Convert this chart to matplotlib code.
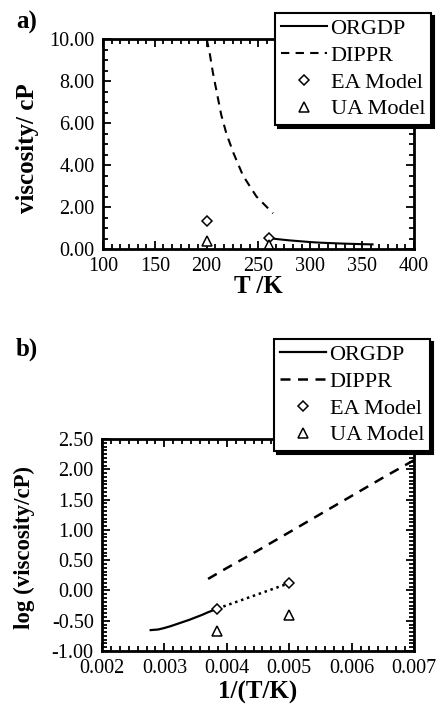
import matplotlib
matplotlib.use("Agg")
import matplotlib.pyplot as plt
from matplotlib.ticker import AutoMinorLocator, FormatStrFormatter

plt.rcParams['font.family'] = ['Liberation Serif', 'DejaVu Serif']

# ---- data panel a (viscosity vs T) ----
orgdp_T = [260, 270, 280, 290, 300, 310, 320, 330, 340, 350, 360]
orgdp_visc = [0.52, 0.46, 0.41, 0.37, 0.33, 0.30, 0.28, 0.26, 0.245, 0.23, 0.22]
dippr_T = [200, 203, 206, 210, 214, 219, 226, 235, 248, 264]
dippr_visc = [10.0, 9.3, 8.4, 7.4, 6.4, 5.5, 4.55, 3.5, 2.5, 1.7]
ea_T = [200, 260]
ea_visc = [1.35, 0.52]
ua_T = [200, 260]
ua_visc = [0.40, 0.21]

# ---- data panel b (log viscosity vs 1/T) ----
orgdp_invT = [0.00278, 0.0029, 0.0030, 0.0031, 0.0032, 0.0033, 0.0034, 0.0035, 0.0036, 0.0037, 0.00385]
orgdp_log = [-0.655, -0.645, -0.62, -0.59, -0.555, -0.52, -0.485, -0.445, -0.405, -0.36, -0.30]
dippr_invT = [0.0037, 0.0040, 0.0045, 0.0050, 0.0055, 0.0060, 0.0065, 0.0070]
dippr_log = [0.19, 0.37, 0.66, 0.96, 1.26, 1.56, 1.86, 2.15]
ea_invT = [0.00385, 0.0050]
ea_log = [-0.30, 0.12]
ua_invT = [0.00385, 0.0050]
ua_log = [-0.67, -0.40]

xticks_a = [100, 150, 200, 250, 300, 350, 400]
yticks_a = [0, 2, 4, 6, 8, 10]
xticks_b = [0.002, 0.003, 0.004, 0.005, 0.006, 0.007]
yticks_b = [-1.0, -0.5, 0.0, 0.5, 1.0, 1.5, 2.0, 2.5]

W, H = 438, 707
fig = plt.figure(figsize=(W / 100, H / 100), dpi=100)

def fx(px):
    return px / W

def fy(py):
    return 1 - py / H

ax1 = fig.add_axes([fx(103), fy(249), fx(414) - fx(103), fy(39) - fy(249)])
ax2 = fig.add_axes([fx(102), fy(651), fx(414) - fx(102), fy(439) - fy(651)])

def style(ax, nx, ny, fmtx, fmty):
    for s in ax.spines.values():
        s.set_linewidth(2.0)
    ax.xaxis.set_minor_locator(AutoMinorLocator(nx))
    ax.yaxis.set_minor_locator(AutoMinorLocator(ny))
    ax.tick_params(which='both', direction='in', top=True, right=True, width=1.3)
    ax.tick_params(which='major', length=6, labelsize=14.5, pad=6)
    ax.tick_params(which='minor', length=3.5)
    ax.xaxis.set_major_formatter(FormatStrFormatter(fmtx))
    ax.yaxis.set_major_formatter(FormatStrFormatter(fmty))

mk = dict(linestyle='none', markerfacecolor='white', markeredgecolor='black',
          markeredgewidth=1.1, markersize=6.5)

# panel a
l1, = ax1.plot(orgdp_T, orgdp_visc, color='black', lw=1.5, label='ORGDP')
l2, = ax1.plot(dippr_T, dippr_visc, color='black', lw=1.5, ls=(0, (4, 3)), label='DIPPR')
l3, = ax1.plot(ea_T, ea_visc, marker='D', label='EA Model', **{**mk, 'markersize': 5.5})
l4, = ax1.plot(ua_T, ua_visc, marker='^', label='UA Model', **mk)
ax1.set_xlim(100, 400)
ax1.set_ylim(0, 10)
ax1.set_xticks(xticks_a)
ax1.set_yticks(yticks_a)
style(ax1, 6, 4, '%d', '%.2f')
ax1.set_xlabel('T /K', fontsize=18, fontweight='bold')
ax1.set_ylabel('viscosity/ cP', fontsize=18, fontweight='bold')
ax1.xaxis.set_label_coords(0.5, -0.125)
ax1.yaxis.set_label_coords(-0.205, 0.48)

# panel b
m1, = ax2.plot(orgdp_invT, orgdp_log, color='black', lw=1.6, label='ORGDP')
m2, = ax2.plot(dippr_invT, dippr_log, color='black', lw=1.8, ls=(0, (4, 3)), label='DIPPR')
ax2.plot(ea_invT, ea_log, color='black', lw=1.8, ls=(0, (1, 1.5)))
m3, = ax2.plot(ea_invT, ea_log, marker='D', label='EA Model', **{**mk, 'markersize': 5.5})
m4, = ax2.plot(ua_invT, ua_log, marker='^', label='UA Model', **mk)
ax2.set_xlim(0.002, 0.007)
ax2.set_ylim(-1.0, 2.5)
ax2.set_xticks(xticks_b)
ax2.set_yticks(yticks_b)
style(ax2, 7, 8, '%.3f', '%.2f')
ax2.set_xlabel('1/(T/K)', fontsize=18, fontweight='bold')
ax2.set_ylabel('log (viscosity/cP)', fontsize=16.5, fontweight='bold')
ax2.xaxis.set_label_coords(0.5, -0.14)
ax2.yaxis.set_label_coords(-0.215, 0.49)

leg_kw = dict(loc='upper left', bbox_transform=fig.transFigure, fontsize=16,
              frameon=True, fancybox=False, framealpha=1, edgecolor='black',
              shadow={'color': 'black', 'alpha': 1, 'ox': 2.5, 'oy': -2.5},
              handlelength=2.1, handletextpad=0.15, labelspacing=0.28,
              borderpad=0.25, borderaxespad=0)
lg1 = fig.legend(handles=[l1, l2, l3, l4], bbox_to_anchor=(fx(275), fy(13)), **leg_kw)
lg2 = fig.legend(handles=[m1, m2, m3, m4], bbox_to_anchor=(fx(274), fy(339)), **leg_kw)
for lg in (lg1, lg2):
    lg.get_frame().set_linewidth(1.5)
    lg.set_zorder(10)

fig.text(fx(16), fy(22), 'a)', fontsize=18, fontweight='bold', va='center', ha='left')
fig.text(fx(16), fy(349), 'b)', fontsize=18, fontweight='bold', va='center', ha='left')

fig.savefig('out.png', dpi=100)
